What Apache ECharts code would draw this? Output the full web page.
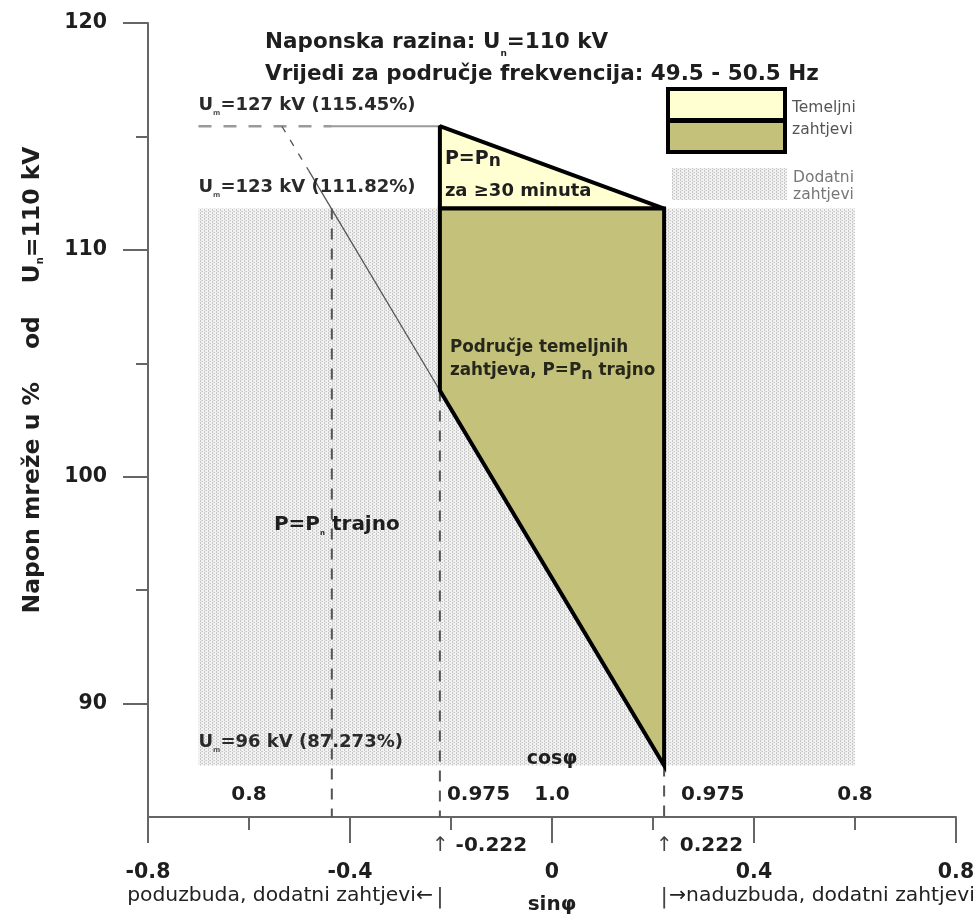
<!DOCTYPE html>
<html><head><meta charset="utf-8">
<script src="https://cdn.jsdelivr.net/npm/echarts@6/dist/echarts.min.js"></script>
<style>html,body{margin:0;padding:0;background:#fff}#c{width:979px;height:918px}</style>
</head><body><div id="c"></div>
<script>
// ---------------- data ----------------
const sinAxisRange = [-0.8, 0.8];
const voltageRange = [85, 120];
const voltageTicks = [90, 100, 110, 120];
const voltageMinorTicks = [95, 105, 115];
const voltageLevels = [115.45, 111.82, 87.273];      // Um = 127, 123, 96 kV in % of Un
const voltageLevelKV = ['127', '123', '96'];
const voltageLevelPct = ['115.45%', '111.82%', '87.273%'];
const sinLimits = [-0.222, 0.222];                   // cos phi = 0.975
const sinCos09 = -0.436;                             // cos phi = 0.9
const kinkVoltage = 103.8;
const dodatniSin = [-0.7, 0.6];
const diagonalSin = [-0.535, -0.482, -0.222];
const diagonalU = [115.45, 113.5, 103.8];
const cosRowSin = [-0.6, -0.222, 0, 0.222, 0.6];
const cosRowText = ['0.8', '0.975', '1.0', '0.975', '0.8'];
const pTrajnoAnchor = [-0.436, 98];

// ---------------- helpers ----------------
const FF = 'DejaVu Sans';
const TXT = '#1e1e1e';
function makePattern() {
  const c = document.createElement('canvas'); c.width = 4; c.height = 3;
  const g = c.getContext('2d');
  g.fillStyle = '#f2f2f2'; g.fillRect(0, 0, 4, 3);
  g.fillStyle = '#c6c6c6'; g.fillRect(0, 0, 1, 1); g.fillRect(0, 2, 1, 1); g.fillRect(2, 1, 1, 1);
  g.fillStyle = '#d8d8d8'; g.fillRect(1, 1, 1, 1);
  return { image: c, repeat: 'repeat' };
}
const dotPattern = makePattern();
const YELLOW = '#ffffd2', OLIVE = '#c4c27a';

function polySeries(pts, style, z) {
  return { type: 'custom', silent: true, z, animation: false, data: [[0, 100]],
    renderItem: (p, api) => ({ type: 'polygon', shape: { points: pts.map(q => api.coord(q)) }, style }) };
}
function lineSeries(pts, color, width, type, z) {
  return { type: 'line', silent: true, z, clip: false, animation: false, symbol: 'none', data: pts,
    lineStyle: { color, width, type, cap: 'butt' } };
}
const subRich = (fs, extra) => Object.assign({ fontFamily: FF, fontWeight: 'bold', fontSize: fs, verticalAlign: 'bottom', lineHeight: fs + 2, color: TXT }, extra || {});
function note(x, y, text, o) {
  return { value: [x, y], label: {
    show: true, opacity: 1, formatter: () => text, position: [o.dx || 0, o.dy || 0],
    align: o.align || 'left', verticalAlign: 'middle',
    fontFamily: FF, fontWeight: o.weight || 'bold', fontSize: o.fs || 20, color: o.color || TXT,
    lineHeight: o.lh || Math.round((o.fs || 20) * 1.2),
    rich: o.rich || {} } };
}

// polygons
const yellowPoly = [[sinLimits[0], voltageLevels[0]], [sinLimits[1], voltageLevels[1]], [sinLimits[0], voltageLevels[1]]];
const olivePoly = [[sinLimits[0], voltageLevels[1]], [sinLimits[1], voltageLevels[1]], [sinLimits[1], voltageLevels[2]], [sinLimits[0], kinkVoltage]];
const greyRect = [[dodatniSin[0], voltageLevels[1]], [dodatniSin[1], voltageLevels[1]], [dodatniSin[1], voltageLevels[2]], [dodatniSin[0], voltageLevels[2]]];

const yMin = voltageRange[0];
const notes = [];
// Um labels
voltageLevels.forEach((u, i) => {
  notes.push(note(dodatniSin[0], u, `U{m|m}=${voltageLevelKV[i]} kV (${voltageLevelPct[i]})`,
    { dy: i === 2 ? -23 : -21, fs: 18, color: '#2a2a2a', rich: { m: subRich(7, { color: '#555' }) } }));
});
// cos phi row
cosRowSin.forEach((s, i) => {
  const isLim = Math.abs(Math.abs(s) - sinLimits[1]) < 1e-6;
  notes.push(note(s, yMin, cosRowText[i], { dy: -22, align: isLim ? 'left' : 'center', dx: isLim ? (s < 0 ? 7 : 17) : 0 }));
});
notes.push(note(0, yMin, 'cosφ', { dy: -58, align: 'center', fs: 19 }));
// below axis
sinLimits.forEach(s => {
  notes.push(note(s, yMin, `{a|↑} ${s.toFixed(3)}`, { dx: -8, dy: 29, rich: { a: { fontFamily: FF, fontSize: 20, fontWeight: 'normal', color: '#444' } } }));
  notes.push(note(s, yMin, '|', { dy: 80, align: 'center', weight: 'normal', fs: 22, color: '#444' }));
});
notes.push(note(sinLimits[0], yMin, 'poduzbuda, dodatni zahtjevi←', { dx: -7, dy: 79, align: 'right', weight: 'normal', fs: 20.3, color: '#222' }));
notes.push(note(sinLimits[1], yMin, '→naduzbuda, dodatni zahtjevi', { dx: 5, dy: 79, align: 'left', weight: 'normal', fs: 20.3, color: '#222' }));
notes.push(note(0, yMin, 'sinφ', { dy: 88, align: 'center', fs: 20 }));
// polygon texts
notes.push(note(sinLimits[0], voltageLevels[1], 'P=P{n|n}', { dx: 5, dy: -50, fs: 19, rich: { n: subRich(17) } }));
notes.push(note(sinLimits[0], voltageLevels[1], 'za ≥30 minuta', { dx: 5, dy: -17, fs: 18 }));
notes.push(note(sinLimits[0], kinkVoltage, 'Područje temeljnih\nzahtjeva, P=P{n|n} trajno', { dx: 10, dy: -31, fs: 16.8, lh: 23, color: '#26261a', rich: { n: subRich(16, { color: '#26261a', lineHeight: 14 }) } }));
notes.push(note(pTrajnoAnchor[0], pTrajnoAnchor[1], 'P=P{n|n} trajno', { dx: 5, dy: 3, align: 'center', fs: 20, rich: { n: subRich(7) } }));

const option = {
  backgroundColor: '#fff',
  animation: false,
  title: {
    left: 260, top: 21,
    text: 'Naponska razina: U{n|n}=110 kV\nVrijedi za područje frekvencija: 49.5 - 50.5 Hz',
    textStyle: { fontFamily: FF, fontWeight: 'bold', fontSize: 21.5, color: TXT, lineHeight: 32,
      rich: { n: subRich(9, { lineHeight: 10 }) } }
  },
  grid: { left: 148, right: 23, top: 23, bottom: 101, containLabel: false, outerBoundsMode: 'none' },
  xAxis: {
    type: 'value', min: sinAxisRange[0], max: sinAxisRange[1], interval: 0.4,
    splitLine: { show: false },
    axisLine: { onZero: false, lineStyle: { color: '#666', width: 2 } },
    axisTick: { length: 26, lineStyle: { color: '#666', width: 2 } },
    minorTick: { show: true, splitNumber: 2, length: 13, lineStyle: { color: '#666', width: 2 } },
    axisLabel: { margin: 45, fontFamily: FF, fontWeight: 'bold', fontSize: 20.5, color: TXT,
      formatter: v => (Math.abs(v) < 1e-9 ? '0' : (+v.toFixed(1)).toString()) }
  },
  yAxis: [{
    type: 'value', min: voltageRange[0], max: voltageRange[1], interval: 5, position: 'left',
    splitLine: { show: false },
    axisLine: { onZero: false, lineStyle: { color: '#666', width: 2 } },
    axisTick: { length: 25, customValues: voltageTicks, lineStyle: { color: '#666', width: 2 } },
    axisLabel: { margin: 41, customValues: voltageTicks, fontFamily: FF, fontWeight: 'bold', fontSize: 20.5, color: TXT }
  }, {
    type: 'value', min: voltageRange[0], max: voltageRange[1], interval: 5, position: 'left',
    splitLine: { show: false }, axisLine: { show: false, onZero: false },
    axisTick: { length: 12, customValues: voltageMinorTicks, lineStyle: { color: '#666', width: 2 } },
    axisLabel: { show: false }
  }],
  graphic: [
    { type: 'text', x: 33, y: 380, rotation: Math.PI / 2,
      style: { text: 'Napon mreže u %    od    U{n|n}=110 kV', fontFamily: FF, fontWeight: 'bold', fontSize: 23.5, fill: TXT,
        align: 'center', verticalAlign: 'middle',
        rich: { n: { fontFamily: FF, fontWeight: 'bold', fontSize: 10, verticalAlign: 'bottom', lineHeight: 11, fill: TXT } } } },
    { type: 'rect', shape: { x: 668, y: 89, width: 117, height: 31 }, style: { fill: YELLOW, stroke: '#000', lineWidth: 4 } },
    { type: 'rect', shape: { x: 668, y: 121, width: 117, height: 31 }, style: { fill: OLIVE, stroke: '#000', lineWidth: 4 } },
    { type: 'text', x: 792, y: 108, style: { text: 'Temeljni', fontFamily: FF, fontSize: 15.5, fill: '#555', verticalAlign: 'middle' } },
    { type: 'text', x: 792, y: 130, style: { text: 'zahtjevi', fontFamily: FF, fontSize: 15.5, fill: '#555', verticalAlign: 'middle' } },
    { type: 'rect', shape: { x: 672, y: 168, width: 115, height: 32 }, style: { fill: dotPattern } },
    { type: 'text', x: 793, y: 178, style: { text: 'Dodatni', fontFamily: FF, fontSize: 15.5, fill: '#777', verticalAlign: 'middle' } },
    { type: 'text', x: 793, y: 195, style: { text: 'zahtjevi', fontFamily: FF, fontSize: 15.5, fill: '#777', verticalAlign: 'middle' } }
  ],
  series: [
    polySeries(greyRect, { fill: dotPattern }, 1),
    // axis overshoot to the left
    lineSeries([[-0.822, yMin], [sinAxisRange[0], yMin]], '#666', 2, 'solid', 2),
    // 115.45 % horizontal
    lineSeries([[dodatniSin[0], voltageLevels[0]], [sinCos09, voltageLevels[0]]], '#9a9a9a', 2.5, [13, 12], 2),
    lineSeries([[sinCos09, voltageLevels[0]], [sinLimits[0], voltageLevels[0]]], '#9a9a9a', 2, 'solid', 2),
    // diagonal
    lineSeries([[diagonalSin[0], diagonalU[0]], [diagonalSin[1], diagonalU[1]]], '#555', 1.3, [7, 9], 2),
    lineSeries([[diagonalSin[1], diagonalU[1]], [diagonalSin[2], diagonalU[2]]], '#555', 1.3, 'solid', 2),
    // vertical dashed
    lineSeries([[sinCos09, voltageLevels[1]], [sinCos09, yMin]], '#555', 2, [11, 9], 2),
    lineSeries([[sinLimits[0], kinkVoltage], [sinLimits[0], yMin]], '#555', 2, [11, 9], 2),
    lineSeries([[sinLimits[1], voltageLevels[2]], [sinLimits[1], yMin]], '#555', 2, [11, 9], 2),
    polySeries(yellowPoly, { fill: YELLOW, stroke: '#000', lineWidth: 4, lineJoin: 'bevel' }, 3),
    polySeries(olivePoly, { fill: OLIVE, stroke: '#000', lineWidth: 4, lineJoin: 'miter' }, 3),
    { type: 'scatter', silent: true, z: 6, clip: false, animation: false, symbolSize: 0,
      itemStyle: { color: '#000', opacity: 1 }, data: notes }
  ]
};
const chart = echarts.init(document.getElementById('c'), null, { renderer: 'canvas' });
chart.setOption(option);
</script></body></html>
